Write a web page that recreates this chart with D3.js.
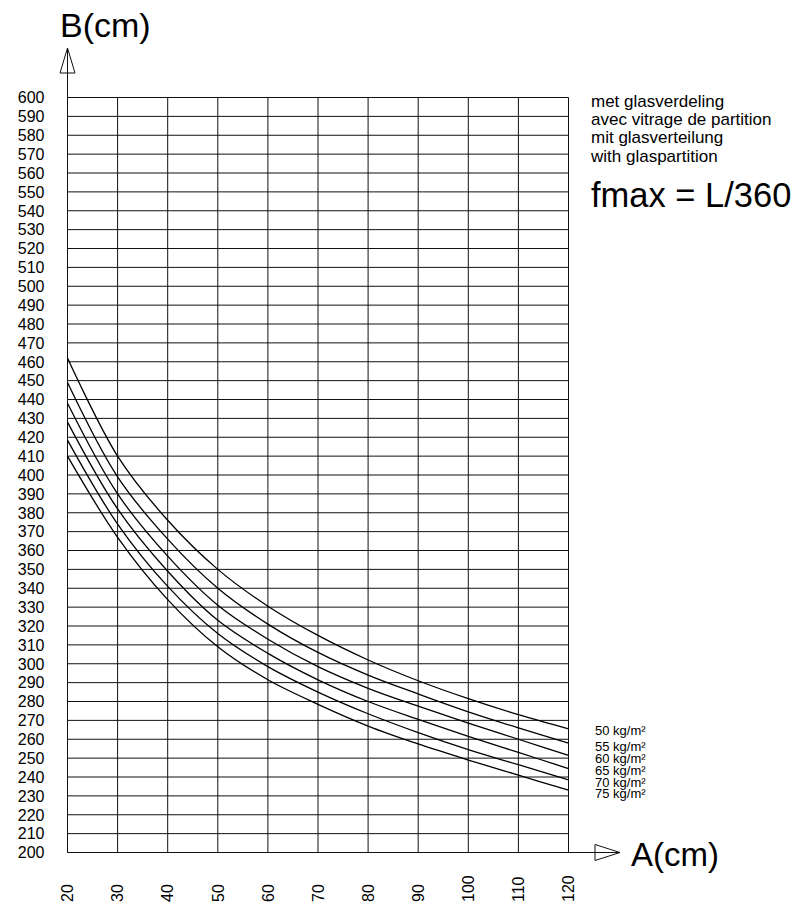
<!DOCTYPE html>
<html>
<head>
<meta charset="utf-8">
<script src="https://cdn.jsdelivr.net/npm/d3@7"></script>
<style>
  html, body { margin: 0; padding: 0; background: #fff; }
  svg { display: block; font-family: "Liberation Sans", Arial, sans-serif; }
</style>
</head>
<body>
<svg id="chart" width="795" height="906"></svg>
<script>
// ---- data ----
const aValues = [20, 30, 40, 50, 60, 70, 80, 90, 100, 110, 120];
const xTicks = [20, 30, 40, 50, 60, 70, 80, 90, 100, 110, 120];
const yTicks = d3.range(200, 601, 10);
const seriesNames = ["50 kg/m²", "55 kg/m²", "60 kg/m²", "65 kg/m²", "70 kg/m²", "75 kg/m²"];
const b50 = [462, 410, 376, 350, 330.5, 315, 302, 291, 281.5, 273, 265.5];
const b55 = [449, 399, 366, 340, 321, 306, 294, 284, 274.5, 266, 258];
const b60 = [438, 390, 357, 331, 313, 298.5, 287, 277.5, 268.5, 260, 251.5];
const b65 = [428, 382, 349, 323, 305.5, 291.5, 280, 270.5, 261.5, 253, 244.5];
const b70 = [418.5, 374, 341, 316, 298.5, 285, 273.5, 263.5, 254.5, 246.5, 238.5];
const b75 = [410, 367, 334, 309, 291.5, 278.5, 267, 257.5, 249, 241, 233];
const noteLines = ["met glasverdeling", "avec vitrage de partition", "mit glasverteilung", "with glaspartition"];
const formula = "fmax = L/360";
const xTitle = "A(cm)";
const yTitle = "B(cm)";

const series = [b50, b55, b60, b65, b70, b75].map((vals, i) => ({
  name: seriesNames[i],
  points: vals.map((b, j) => ({a: aValues[j], b: b}))
}));

// ---- layout ----
const svg = d3.select("#chart");
const x = d3.scaleLinear().domain([20, 120]).range([67.5, 568.5]);
const y = d3.scaleLinear().domain([200, 600]).range([852.5, 97.5]);
const ink = "#111";

// grid
const g = svg.append("g");
g.selectAll("line.h").data(yTicks).join("line")
  .attr("x1", x(20)).attr("x2", x(120))
  .attr("y1", d => y(d)).attr("y2", d => y(d))
  .attr("stroke", ink).attr("stroke-width", 1);
g.selectAll("line.v").data(xTicks).join("line")
  .attr("x1", d => x(d)).attr("x2", d => x(d))
  .attr("y1", y(600)).attr("y2", y(200))
  .attr("stroke", ink).attr("stroke-width", 1);

// axes with arrows
const yTipY = 48, yBaseY = 73;
svg.append("line").attr("x1", x(20)).attr("x2", x(20)).attr("y1", y(200)).attr("y2", yTipY)
  .attr("stroke", ink).attr("stroke-width", 1);
svg.append("path")
  .attr("d", `M${x(20)},${yTipY} L${x(20) - 7.5},${yBaseY} L${x(20) + 7.5},${yBaseY} Z`)
  .attr("fill", "none").attr("stroke", ink).attr("stroke-width", 1);
const xBaseX = 595, xTipX = 620;
svg.append("line").attr("x1", x(20)).attr("x2", xTipX).attr("y1", y(200)).attr("y2", y(200))
  .attr("stroke", ink).attr("stroke-width", 1);
svg.append("path")
  .attr("d", `M${xTipX},${y(200)} L${xBaseX},${y(200) - 8} L${xBaseX},${y(200) + 8} Z`)
  .attr("fill", "none").attr("stroke", ink).attr("stroke-width", 1);

// y tick labels
svg.append("g").selectAll("text").data(yTicks).join("text")
  .attr("x", 44.5).attr("y", d => y(d)).attr("dy", "0.36em")
  .attr("text-anchor", "end").attr("font-size", 16).attr("fill", "#000")
  .text(d => d);

// x tick labels (rotated)
svg.append("g").selectAll("text").data(xTicks).join("text")
  .attr("transform", d => `translate(${x(d)},902) rotate(-90)`)
  .attr("dy", "0.36em")
  .attr("text-anchor", "start").attr("font-size", 16).attr("fill", "#000")
  .text(d => d);

// axis titles
svg.append("text").attr("x", 60).attr("y", 37).attr("font-size", 34).attr("fill", "#000").text(yTitle);
svg.append("text").attr("x", 631).attr("y", 866).attr("font-size", 33).attr("fill", "#000").text(xTitle);

// notes
svg.append("g").selectAll("text").data(noteLines).join("text")
  .attr("x", 591).attr("y", (d, i) => 106.5 + i * 18.4)
  .attr("font-size", 17).attr("fill", "#000").text(d => d);
svg.append("text").attr("x", 591).attr("y", 207).attr("font-size", 34.5).attr("fill", "#000").text(formula);

// curves
const line = d3.line().x(d => x(d.a)).y(d => y(d.b)).curve(d3.curveCatmullRom.alpha(0.5));
svg.append("g").selectAll("path").data(series).join("path")
  .attr("d", d => line(d.points))
  .attr("fill", "none").attr("stroke", "#000").attr("stroke-width", 1.3);

// curve labels (baselines in px, stacked tightly as in the original)
const labelBaselines = [735, 751, 763, 775, 786.5, 797.5];
svg.append("g").selectAll("text").data(series).join("text")
  .attr("x", 595).attr("y", (d, i) => labelBaselines[i])
  .attr("font-size", 13).attr("fill", "#000").text(d => d.name);
</script>
</body>
</html>
